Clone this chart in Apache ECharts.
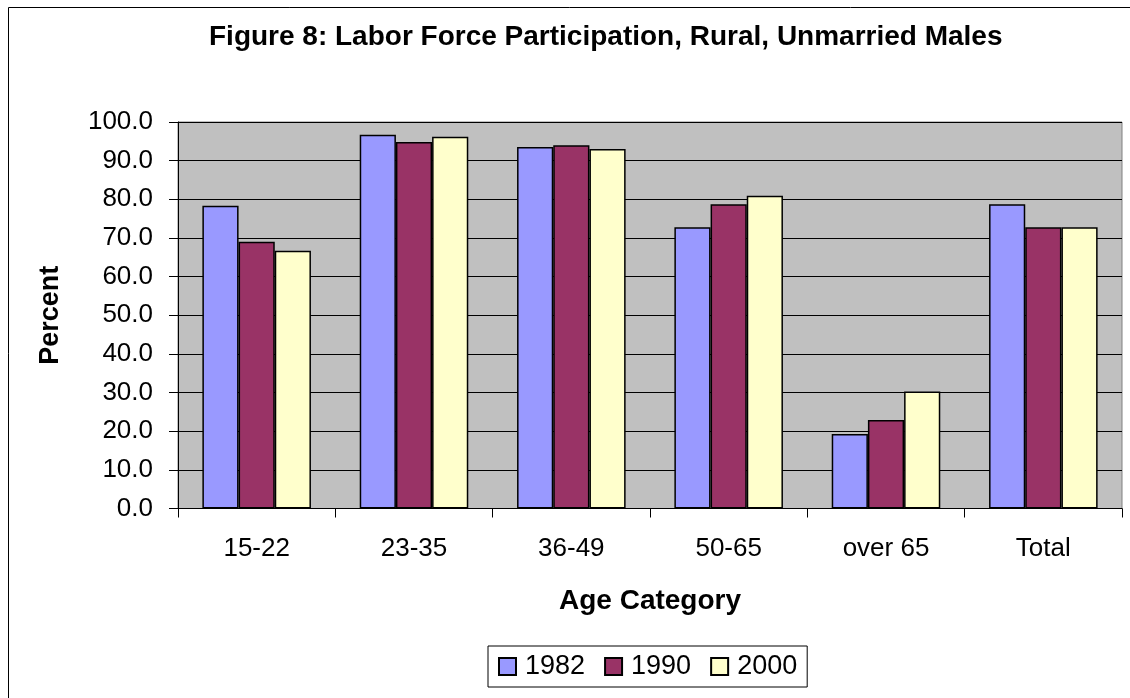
<!DOCTYPE html>
<html>
<head>
<meta charset="utf-8">
<script src="https://cdn.jsdelivr.net/npm/echarts@6/dist/echarts.min.js"></script>
<style>
html,body{margin:0;padding:0;background:#fff;}
#chart{width:1130px;height:698px;}
</style>
</head>
<body>
<div id="chart"></div>
<script>
const categories = ['15-22', '23-35', '36-49', '50-65', 'over 65', 'Total'];
const years = ['1982', '1990', '2000'];
const values1982 = [78.3, 96.7, 93.5, 72.8, 19.3, 78.7];
const values1990 = [69.0, 94.8, 94.0, 78.7, 22.9, 72.8];
const values2000 = [66.7, 96.2, 93.0, 80.9, 30.3, 72.8];
const colors = ['#9999FF', '#993366', '#FFFFCC'];
const allValues = [values1982, values1990, values2000];

const FONT = 'Liberation Sans, Arial, sans-serif';
const chart = echarts.init(document.getElementById('chart'), null, {renderer: 'canvas'});
chart.setOption({
  animation: false,
  backgroundColor: '#fff',
  graphic: [{
    type: 'rect', left: 6, top: 5, z: -10,
    shape: {width: 1140, height: 710},
    style: {fill: 'none', stroke: '#000', lineWidth: 1}
  }],
  title: {
    text: 'Figure 8: Labor Force Participation, Rural, Unmarried Males',
    left: 204, top: 18,
    textStyle: {fontFamily: FONT, fontSize: 28, fontWeight: 'bold', color: '#000'}
  },
  legend: {
    left: 488, top: 646,
    data: years,
    itemWidth: 17, itemHeight: 17, itemGap: 19,
    icon: 'rect',
    padding: [7, 10],
    borderColor: '#000', borderWidth: 1,
    textStyle: {fontFamily: FONT, fontSize: 27, color: '#000', padding: [0, 0, 0, 4]}
  },
  grid: {
    left: 178, right: 8, top: 122, bottom: 189.5,
    show: true, backgroundColor: '#C0C0C0', borderColor: '#808080', borderWidth: 1
  },
  xAxis: {
    type: 'category',
    data: categories,
    name: 'Age Category',
    nameLocation: 'middle', nameGap: 79,
    nameTextStyle: {fontFamily: FONT, fontSize: 28, fontWeight: 'bold', color: '#000'},
    axisLine: {lineStyle: {color: '#000', width: 1}},
    axisTick: {show: true, length: 9, lineStyle: {color: '#000'}},
    axisLabel: {fontFamily: FONT, fontSize: 26, color: '#000', margin: 27}
  },
  yAxis: {
    type: 'value', min: 0, max: 100, interval: 10,
    name: 'Percent',
    nameLocation: 'middle', nameGap: 114,
    nameTextStyle: {fontFamily: FONT, fontSize: 27, fontWeight: 'bold', color: '#000'},
    axisLine: {show: true, lineStyle: {color: '#000', width: 1}},
    axisTick: {show: true, length: 9, lineStyle: {color: '#000'}},
    axisLabel: {fontFamily: FONT, fontSize: 26, color: '#000', margin: 25,
      formatter: v => v.toFixed(1)},
    splitLine: {show: true, lineStyle: {color: '#000', width: 1}}
  },
  series: years.map((y, i) => ({
    name: y,
    type: 'bar',
    data: allValues[i],
    barGap: '0%',
    barCategoryGap: '31%',
    itemStyle: {color: colors[i], borderColor: '#000', borderWidth: 1.5}
  }))
});
</script>
</body>
</html>
